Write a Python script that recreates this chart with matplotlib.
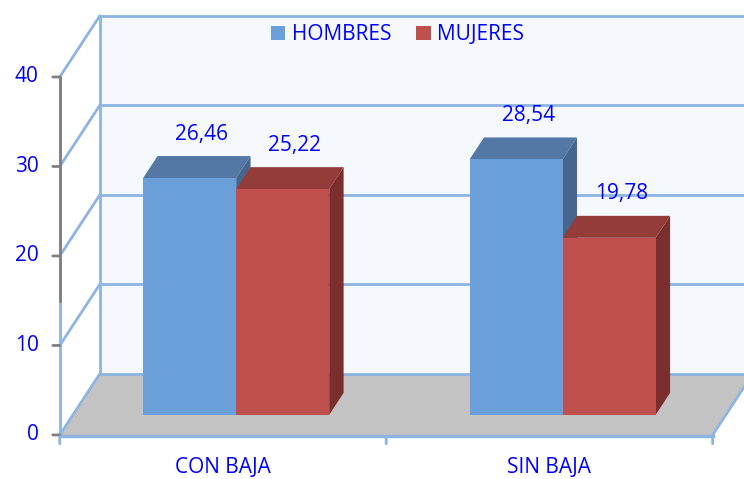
import matplotlib
matplotlib.use("Agg")
import matplotlib.pyplot as plt
from matplotlib.patches import Polygon, Patch

# ---- data ----
categories = ["CON BAJA", "SIN BAJA"]
series_names = ["HOMBRES", "MUJERES"]
hombres = [26.46, 28.54]
mujeres = [25.22, 19.78]
value_labels_h = ["26,46", "28,54"]
value_labels_m = ["25,22", "19,78"]
y_ticks = [0, 10, 20, 30, 40]

# ---- style ----
plt.rcParams['font.family'] = ['Open Sans', 'DejaVu Sans']
TXT = '#0000FF'
GRID = '#8DB4E2'
WALL = '#F5F9FE'
FLOOR = '#C3C3C3'
front_cols = ['#6A9FD9', '#C0504D']
top_cols = ['#5478A6', '#943C3A']
side_cols = ['#46668E', '#7A2F2E']
FS = 15

# depth projection (depth d in [0,1])
DX = 0.1225
DY = 6.816
D0, D1 = 0.33, 0.69
W = 0.285
YMAX = 40

def P(x, v, d):
    return (x + d * DX, v + d * DY)

fig = plt.figure(figsize=(7.44, 4.79), dpi=100)
ax = fig.add_axes([0, 0, 1, 1])
ax.set_xlim(-0.683, 1.596)
ax.set_ylim(-4.92, 48.6)
ax.axis('off')

xl, xr = -0.5, len(categories) - 0.5

# back wall
ax.add_patch(Polygon([P(xl, 0, 1), P(xr + 0.2, 0, 1), P(xr + 0.2, YMAX, 1), P(xl, YMAX, 1)],
                     closed=True, fc=WALL, ec='none', zorder=1))
# floor
ax.add_patch(Polygon([P(xl, 0, 0), P(xr, 0, 0), P(xr, 0, 1), P(xl, 0, 1)],
                     closed=True, fc=FLOOR, ec='none', zorder=2))

# back wall gridlines and side wall lines
for v in y_ticks:
    a, b = P(xl, v, 1), P(xr + 0.2, v, 1)
    ax.plot([a[0], b[0]], [a[1], b[1]], color=GRID, lw=2, zorder=3)
    a, b = P(xl, v, 0), P(xl, v, 1)
    ax.plot([a[0], b[0]], [a[1], b[1]], color=GRID, lw=2, zorder=3)
# back-left vertical edge
a, b = P(xl, 0, 1), P(xl, YMAX, 1)
ax.plot([a[0], b[0]], [a[1], b[1]], color=GRID, lw=2, zorder=3)
# floor front and right edge
a, b = P(xl, 0, 0), P(xr, 0, 0)
ax.plot([a[0], b[0]], [a[1] - 0.15, b[1] - 0.15], color=GRID, lw=2.5, zorder=3)
a, b = P(xr, 0, 0), P(xr, 0, 1)
ax.plot([a[0], b[0]], [a[1], b[1]], color=GRID, lw=2, zorder=3)
# front axis
a, b = P(xl, 0, 0), P(xl, YMAX, 0)
ax.plot([a[0], b[0]], [a[1], b[1]], color=GRID, lw=2, zorder=3)
ax.plot([a[0], b[0]], [15, YMAX], color='#808080', lw=2, zorder=4)
for v in y_ticks:
    p = P(xl, v, 0)
    ax.annotate('', xy=p, xytext=(-7, 0), textcoords='offset pixels',
                arrowprops=dict(arrowstyle='-', color='#808080', lw=2, shrinkA=0, shrinkB=0))
    ax.annotate(str(v), xy=p, xytext=(-21, 0), textcoords='offset pixels',
                ha='right', va='center', color=TXT, fontsize=FS)

# x ticks
for k in range(len(categories) + 1):
    p = P(xl + k, 0, 0)
    ax.annotate('', xy=(p[0], p[1] - 0.2), xytext=(0, -7), textcoords='offset pixels',
                arrowprops=dict(arrowstyle='-', color=GRID, lw=2, shrinkA=0, shrinkB=0))
# category labels
for i, c in enumerate(categories):
    ax.annotate(c, xy=P(i, 0, 0), xytext=(0, -33), textcoords='offset pixels',
                ha='center', va='center', color=TXT, fontsize=FS)

# bars
for i in range(len(categories)):
    for j, (vals, labs) in enumerate([(hombres, value_labels_h), (mujeres, value_labels_m)]):
        v = vals[i]
        x0 = i - W + j * W
        x1 = x0 + W
        # top face
        ax.add_patch(Polygon([P(x0, v, D0), P(x1, v, D0), P(x1, v, D1), P(x0, v, D1)],
                             closed=True, fc=top_cols[j], ec='none', zorder=5))
        # side face
        ax.add_patch(Polygon([P(x1, 0, D0), P(x1, 0, D1), P(x1, v, D1), P(x1, v, D0)],
                             closed=True, fc=side_cols[j], ec='none', zorder=5))
        # front face
        bx, by = P(x0, 0, D0)
        ax.bar(bx, v, width=W, bottom=by, align='edge', color=front_cols[j],
               edgecolor='none', zorder=6)
        ax.annotate(labs[i], xy=P(x0 + W / 2, v, D0), xytext=(12, 44),
                    textcoords='offset pixels', ha='center', va='center',
                    color=TXT, fontsize=FS, zorder=7)

# legend
handles = [Patch(fc=front_cols[0], ec='none'), Patch(fc=front_cols[1], ec='none')]
leg = ax.legend(handles, series_names, loc='center', bbox_to_anchor=(0.534, 0.927),
                ncol=2, frameon=False, fontsize=FS, handlelength=0.7, handleheight=0.7,
                handletextpad=0.3, columnspacing=1.2)
for t in leg.get_texts():
    t.set_color(TXT)

fig.savefig('out.png', dpi=100)
